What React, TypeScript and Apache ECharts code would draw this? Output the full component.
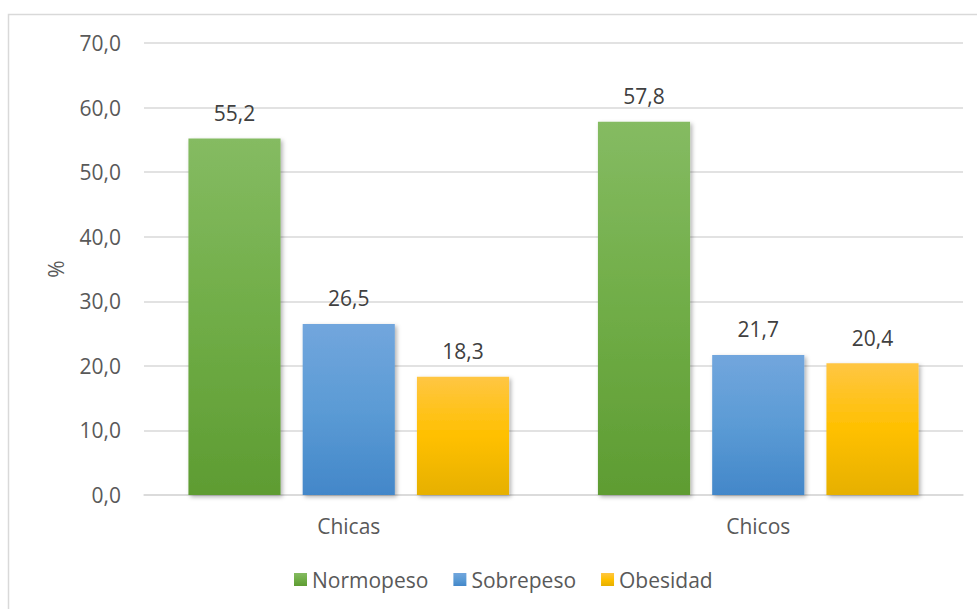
import React, { useEffect, useRef } from "react";
import * as echarts from "echarts";

// Categories, series and axis ticks
const categories = ["Chicas", "Chicos"];
const normopeso = [55.2, 57.8];
const sobrepeso = [26.5, 21.7];
const obesidad = [18.3, 20.4];
const yTicks = { min: 0, max: 70, interval: 10 };

const FONT = "'Open Sans', 'Noto Sans', sans-serif";
const FS = 21;
const fmt = (v: number) => v.toFixed(1).replace(".", ",");

const grad = (top: string, mid: string, bottom: string) =>
  new echarts.graphic.LinearGradient(0, 0, 0, 1, [
    { offset: 0, color: top },
    { offset: 0.5, color: mid },
    { offset: 1, color: bottom },
  ]);

const barSeries = (name: string, data: number[], color: any) => ({
  name,
  type: "bar",
  data,
  barWidth: "22.5%",
  barGap: "24%",
  itemStyle: {
    color,
    shadowBlur: 4,
    shadowColor: "rgba(0,0,0,0.3)",
    shadowOffsetX: 2,
    shadowOffsetY: 2,
  },
  label: {
    show: true,
    position: "top",
    distance: 15,
    formatter: (p: any) => fmt(p.value),
    color: "#404040",
    fontSize: FS,
    fontFamily: FONT,
  },
});

export default function App() {
  const ref = useRef<HTMLDivElement>(null);

  useEffect(() => {
    if (!ref.current) return;
    const chart = echarts.init(ref.current, null, { renderer: "svg" });
    chart.setOption({
      animation: false,
      backgroundColor: "#ffffff",
      textStyle: { fontFamily: FONT },
      graphic: [
        {
          type: "rect",
          shape: { x: 8.5, y: 14.5, width: 1000, height: 1000 },
          style: { fill: "none", stroke: "#d9d9d9", lineWidth: 1.5 },
          silent: true,
        },
      ],
      grid: { left: 144, right: 14, top: 43, bottom: 114, containLabel: false },
      legend: {
        top: 564,
        left: 289,
        itemWidth: 13,
        itemHeight: 13,
        itemGap: 25,
        textStyle: { color: "#595959", fontSize: FS, fontFamily: FONT },
        icon: "rect",
      },
      xAxis: {
        type: "category",
        data: categories,
        axisLine: { lineStyle: { color: "#d9d9d9", width: 1.5 } },
        axisTick: { show: false },
        axisLabel: { color: "#595959", fontSize: FS, margin: 20, fontFamily: FONT },
      },
      yAxis: {
        type: "value",
        min: yTicks.min,
        max: yTicks.max,
        interval: yTicks.interval,
        name: "%",
        nameLocation: "middle",
        nameGap: 78,
        nameRotate: 90,
        nameTextStyle: { color: "#595959", fontSize: FS, fontFamily: FONT },
        axisLine: { show: false },
        axisTick: { show: false },
        axisLabel: {
          color: "#595959",
          fontSize: FS,
          margin: 23,
          fontFamily: FONT,
          formatter: (v: number) => fmt(v),
        },
        splitLine: { lineStyle: { color: "#d9d9d9", width: 1.5 } },
      },
      series: [
        barSeries("Normopeso", normopeso, grad("#85bb62", "#70ad47", "#5e9c32")),
        barSeries("Sobrepeso", sobrepeso, grad("#72a6dd", "#5b9bd5", "#4387c9")),
        barSeries("Obesidad", obesidad, grad("#ffc643", "#ffc000", "#e6b000")),
      ],
    });
    return () => chart.dispose();
  }, []);

  return (
    <div
      ref={ref}
      style={{ position: "fixed", left: 0, top: 0, width: 977, height: 609 }}
    />
  );
}
